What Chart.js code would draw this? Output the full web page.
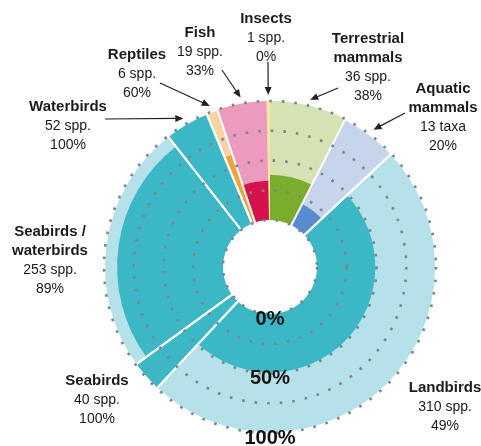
<!DOCTYPE html>
<html>
<head>
<meta charset="utf-8">
<script src="https://cdn.jsdelivr.net/npm/chart.js@4"></script>
<style>
  html, body { margin: 0; padding: 0; background: #fff; }
  #wrap { position: relative; width: 481px; height: 446px; }
</style>
</head>
<body>
<div id="wrap"><canvas id="speciesChart"></canvas></div>
<script>
// groups, clockwise from 12 o'clock
const categories = ["Insects", "Terrestrial\nmammals", "Aquatic\nmammals", "Landbirds", "Seabirds",
  "Seabirds /\nwaterbirds", "Waterbirds", "Reptiles", "Fish"];
const counts = [1, 36, 13, 310, 40, 253, 52, 6, 19];
const countUnits = ["spp.", "spp.", "taxa", "spp.", "spp.", "spp.", "spp.", "spp.", "spp."];
const percents = [0, 38, 20, 49, 100, 89, 100, 60, 33];
// wedge widths in degrees (not proportional to counts)
const wedgeDegrees = [1.2, 27, 20, 176, 11, 88, 15.5, 4, 17.3];
const ringTicks = [0, 25, 50, 75, 100];
const ringLabelValues = [0, 50, 100];

const darkColors = ["#efd23a", "#79ad2b", "#5b8bcf", "#3cb7c6", "#3cb7c6", "#3cb7c6", "#3cb7c6", "#f2a23a", "#d6124c"];
const lightColors = ["#f8e79a", "#d5e2b4", "#c6d5eb", "#b4e1ea", "#b4e1ea", "#b4e1ea", "#b4e1ea", "#f8d4a2", "#ec9bbe"];
const separatorWidths = [0, 0, 2, 2, 2, 2, 2, 2, 0];

// label anchors (centre x, first line y) and arrow tails
const labelLayout = [
  { x: 266, y: 19, tail: [268, 62] },
  { x: 368, y: 39, tail: [338, 88] },
  { x: 443, y: 89, tail: [405, 113] },
  { x: 445, y: 388 },
  { x: 97, y: 381 },
  { x: 50, y: 232 },
  { x: 68, y: 107, tail: [105, 119] },
  { x: 137, y: 55, tail: [160, 83] },
  { x: 200, y: 33, tail: [222, 70] },
];
const lineH = 19;
const fontFamily = '"Liberation Sans", Arial, sans-serif';

function drawArrow(ctx, x0, y0, x1, y1) {
  const ang = Math.atan2(y1 - y0, x1 - x0);
  const head = 8;
  ctx.strokeStyle = "#222";
  ctx.fillStyle = "#222";
  ctx.lineWidth = 1.2;
  ctx.beginPath();
  ctx.moveTo(x0, y0);
  ctx.lineTo(x1 - Math.cos(ang) * head * 0.8, y1 - Math.sin(ang) * head * 0.8);
  ctx.stroke();
  ctx.beginPath();
  ctx.moveTo(x1, y1);
  ctx.lineTo(x1 - Math.cos(ang) * head + Math.sin(ang) * 3.5, y1 - Math.sin(ang) * head - Math.cos(ang) * 3.5);
  ctx.lineTo(x1 - Math.cos(ang) * head - Math.sin(ang) * 3.5, y1 - Math.sin(ang) * head + Math.cos(ang) * 3.5);
  ctx.closePath();
  ctx.fill();
}

const annotations = {
  id: "annotations",
  afterDraw(chart) {
    const ctx = chart.ctx;
    const scale = chart.scales.r;
    const arcs = chart.getDatasetMeta(3).data;
    ctx.save();
    ctx.textAlign = "center";
    ctx.textBaseline = "middle";
    categories.forEach((name, i) => {
      const pos = labelLayout[i];
      let y = pos.y;
      ctx.fillStyle = "#1b1b1b";
      ctx.font = "bold 15px " + fontFamily;
      name.split("\n").forEach((line) => {
        ctx.fillText(line, pos.x, y);
        y += lineH;
      });
      ctx.font = "14px " + fontFamily;
      ctx.fillText(counts[i] + " " + countUnits[i], pos.x, y);
      ctx.fillText(percents[i] + "%", pos.x, y + lineH);

      if (pos.tail) {
        const a = arcs[i];
        const mid = (a.startAngle + a.endAngle) / 2;
        const r = a.outerRadius + 6;
        drawArrow(ctx, pos.tail[0], pos.tail[1], a.x + Math.cos(mid) * r, a.y + Math.sin(mid) * r);
      }
    });

    // ring scale labels below the hole
    ctx.fillStyle = "#111";
    ctx.font = "bold 20px " + fontFamily;
    ringLabelValues.forEach((v) => {
      const r = scale.getDistanceFromCenterForValue(v);
      ctx.fillText(v + "%", scale.xCenter, scale.yCenter + r + 5);
    });
    ctx.restore();
  },
};

const full = categories.map(() => 100);

const ctx = document.getElementById("speciesChart").getContext("2d");
new Chart(ctx, {
  type: "polarArea",
  data: {
    labels: categories,
    datasets: [
      // white separators on top
      {
        data: full,
        angle: wedgeDegrees,
        backgroundColor: "rgba(0,0,0,0)",
        borderColor: "#fff",
        borderWidth: separatorWidths,
      },
      // hole in the middle
      {
        data: [0],
        backgroundColor: "#fff",
        borderWidth: 0,
      },
      // share of species (dark)
      {
        data: percents,
        angle: wedgeDegrees,
        backgroundColor: darkColors,
        borderWidth: 0,
      },
      // 100% background (light)
      {
        data: full,
        angle: wedgeDegrees,
        backgroundColor: lightColors,
        borderWidth: 0,
      },
    ],
  },
  options: {
    responsive: true,
    maintainAspectRatio: false,
    animation: false,
    events: [],
    layout: { padding: { left: 104, right: 45, top: 101, bottom: 13 } },
    plugins: {
      legend: { display: false },
      tooltip: { enabled: false },
    },
    scales: {
      r: {
        min: -39.5,
        max: 100,
        startAngle: -1.2,
        afterBuildTicks: (scale) => {
          scale.ticks = ringTicks.map((v) => ({ value: v }));
        },
        ticks: { display: false, z: 1 },
        grid: { circular: true, color: "#7f8489", lineWidth: 2.6, z: 1 },
        border: { dash: [2.6, 10] },
        angleLines: { display: false },
        pointLabels: { display: false },
      },
    },
  },
  plugins: [annotations],
});
</script>
</body>
</html>
